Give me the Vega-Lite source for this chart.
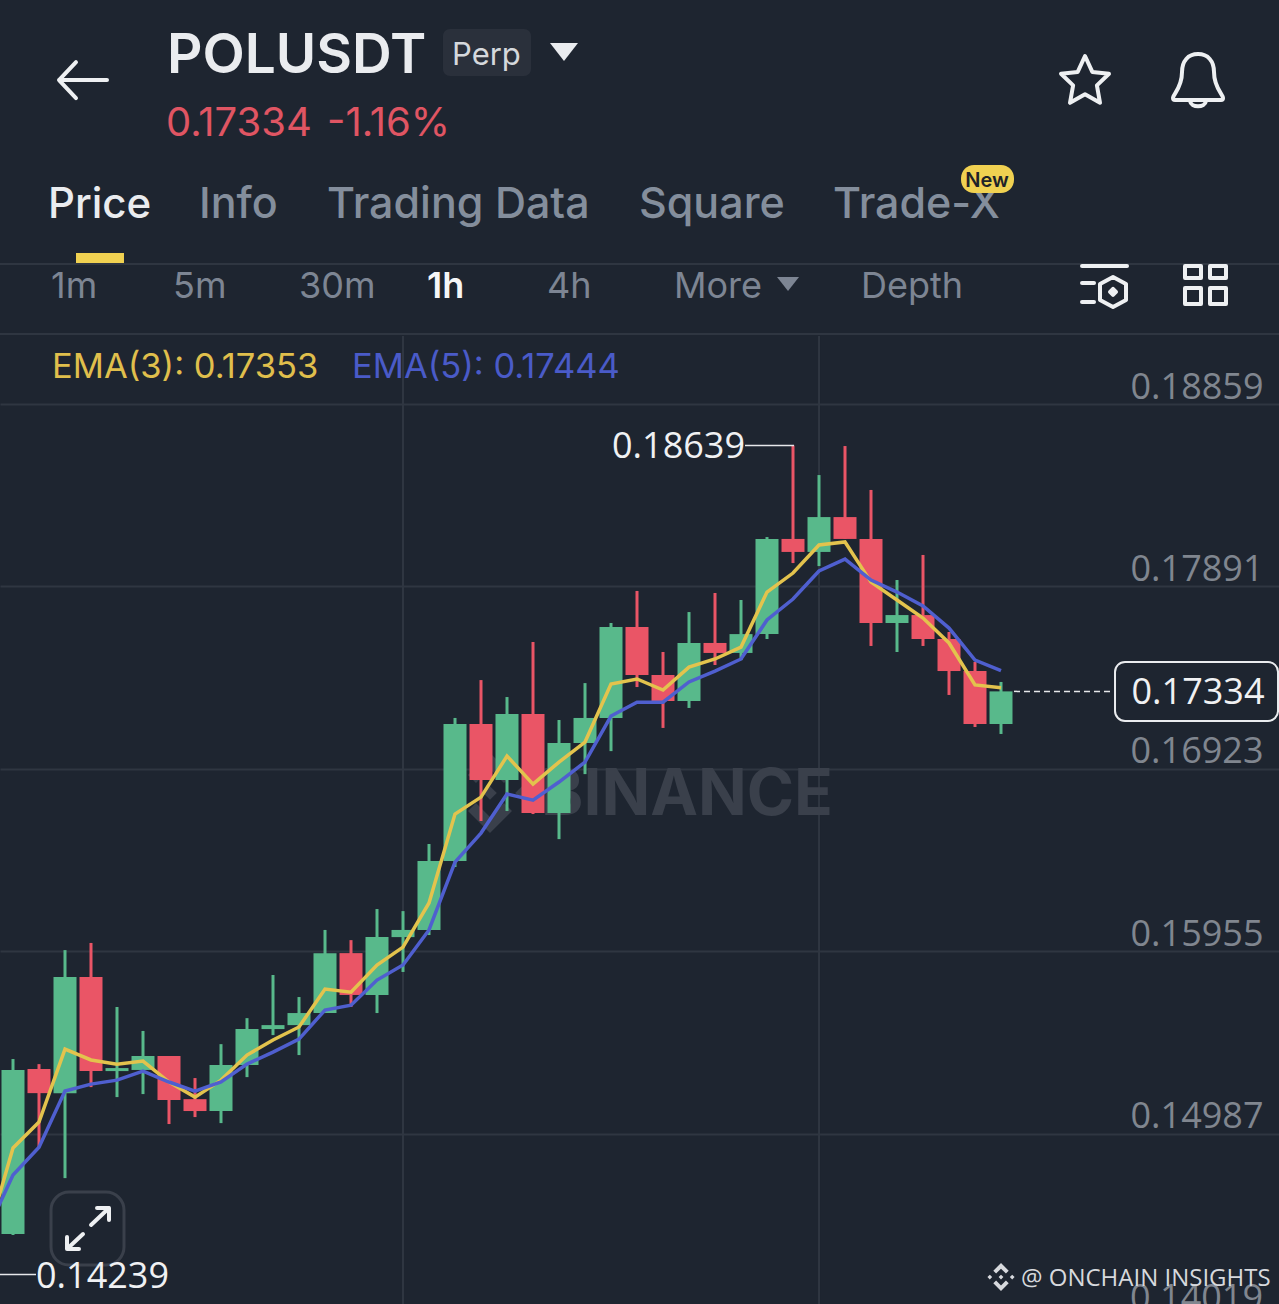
{
  "$schema": "https://vega.github.io/schema/vega-lite/v6.json",
  "description": "POLUSDT Perp 1h candlestick screen with EMA(3) and EMA(5).",
  "width": 1279,
  "height": 1304,
  "padding": 0,
  "autosize": {"type": "none"},
  "background": "#1e2530",
  "config": {"view": {"stroke": null}, "font": "Inter"},
  "resolve": {"axis": {"y": "independent"}},
  "datasets": {
    "candles": [
      {"i":0,"open":0.14454,"high":0.15383,"low":0.14449,"close":0.15325,"dir":"up"},
      {"i":1,"open":0.1533,"high":0.15356,"low":0.14915,"close":0.15202,"dir":"down"},
      {"i":2,"open":0.15202,"high":0.15961,"low":0.14751,"close":0.15818,"dir":"up"},
      {"i":3,"open":0.15818,"high":0.15999,"low":0.15234,"close":0.15319,"dir":"down"},
      {"i":4,"open":0.15319,"high":0.15659,"low":0.15181,"close":0.15335,"dir":"up"},
      {"i":5,"open":0.15325,"high":0.15532,"low":0.15197,"close":0.15399,"dir":"up"},
      {"i":6,"open":0.15399,"high":0.15399,"low":0.15038,"close":0.15165,"dir":"down"},
      {"i":7,"open":0.1517,"high":0.15282,"low":0.15075,"close":0.15107,"dir":"down"},
      {"i":8,"open":0.15107,"high":0.15462,"low":0.15043,"close":0.15351,"dir":"up"},
      {"i":9,"open":0.15351,"high":0.156,"low":0.15287,"close":0.15542,"dir":"up"},
      {"i":10,"open":0.15542,"high":0.15829,"low":0.1551,"close":0.15563,"dir":"up"},
      {"i":11,"open":0.15563,"high":0.15712,"low":0.15404,"close":0.15627,"dir":"up"},
      {"i":12,"open":0.15627,"high":0.16068,"low":0.15627,"close":0.15945,"dir":"up"},
      {"i":13,"open":0.15945,"high":0.16014,"low":0.15659,"close":0.15723,"dir":"down"},
      {"i":14,"open":0.15723,"high":0.16179,"low":0.15627,"close":0.1603,"dir":"up"},
      {"i":15,"open":0.1603,"high":0.16168,"low":0.15845,"close":0.16068,"dir":"up"},
      {"i":16,"open":0.16068,"high":0.16524,"low":0.16041,"close":0.16434,"dir":"up"},
      {"i":17,"open":0.16434,"high":0.17193,"low":0.16402,"close":0.17161,"dir":"up"},
      {"i":18,"open":0.17161,"high":0.17394,"low":0.16646,"close":0.16864,"dir":"down"},
      {"i":19,"open":0.16864,"high":0.17304,"low":0.16699,"close":0.17214,"dir":"up"},
      {"i":20,"open":0.17214,"high":0.17596,"low":0.16683,"close":0.16688,"dir":"down"},
      {"i":21,"open":0.16688,"high":0.17182,"low":0.1655,"close":0.1706,"dir":"up"},
      {"i":22,"open":0.1706,"high":0.17378,"low":0.16895,"close":0.17193,"dir":"up"},
      {"i":23,"open":0.17193,"high":0.17697,"low":0.17017,"close":0.17676,"dir":"up"},
      {"i":24,"open":0.17676,"high":0.17867,"low":0.17357,"close":0.17421,"dir":"down"},
      {"i":25,"open":0.17421,"high":0.17543,"low":0.1714,"close":0.17283,"dir":"down"},
      {"i":26,"open":0.17283,"high":0.17755,"low":0.17246,"close":0.17591,"dir":"up"},
      {"i":27,"open":0.17591,"high":0.17856,"low":0.17474,"close":0.17538,"dir":"down"},
      {"i":28,"open":0.17538,"high":0.17819,"low":0.175,"close":0.17638,"dir":"up"},
      {"i":29,"open":0.17638,"high":0.18153,"low":0.17612,"close":0.18143,"dir":"up"},
      {"i":30,"open":0.18143,"high":0.18639,"low":0.18015,"close":0.18074,"dir":"down"},
      {"i":31,"open":0.18074,"high":0.18482,"low":0.17999,"close":0.18259,"dir":"up"},
      {"i":32,"open":0.18259,"high":0.18636,"low":0.18143,"close":0.18143,"dir":"down"},
      {"i":33,"open":0.18143,"high":0.18403,"low":0.17575,"close":0.17697,"dir":"down"},
      {"i":34,"open":0.17697,"high":0.17925,"low":0.17543,"close":0.17739,"dir":"up"},
      {"i":35,"open":0.17739,"high":0.18058,"low":0.17575,"close":0.17612,"dir":"down"},
      {"i":36,"open":0.17612,"high":0.17649,"low":0.17315,"close":0.17442,"dir":"down"},
      {"i":37,"open":0.17442,"high":0.1749,"low":0.17145,"close":0.17161,"dir":"down"},
      {"i":38,"open":0.17161,"high":0.17384,"low":0.17108,"close":0.17334,"dir":"up"}
    ],
    "ema": [
      {"i":-1,"ema3":0.14433,"ema5":0.1447},
      {"i":0,"ema3":0.14911,"ema5":0.14767},
      {"i":1,"ema3":0.15049,"ema5":0.14915},
      {"i":2,"ema3":0.15436,"ema5":0.15213},
      {"i":3,"ema3":0.15378,"ema5":0.1525},
      {"i":4,"ema3":0.15356,"ema5":0.15271},
      {"i":5,"ema3":0.15372,"ema5":0.15319},
      {"i":6,"ema3":0.15261,"ema5":0.15261},
      {"i":7,"ema3":0.15181,"ema5":0.15213},
      {"i":8,"ema3":0.15271,"ema5":0.15261},
      {"i":9,"ema3":0.15404,"ema5":0.15356},
      {"i":10,"ema3":0.15484,"ema5":0.1542},
      {"i":11,"ema3":0.15553,"ema5":0.15489},
      {"i":12,"ema3":0.15754,"ema5":0.15643},
      {"i":13,"ema3":0.15738,"ema5":0.15669},
      {"i":14,"ema3":0.15882,"ema5":0.15802},
      {"i":15,"ema3":0.15977,"ema5":0.15882},
      {"i":16,"ema3":0.16211,"ema5":0.16068},
      {"i":17,"ema3":0.16683,"ema5":0.16428},
      {"i":18,"ema3":0.16773,"ema5":0.16582},
      {"i":19,"ema3":0.16991,"ema5":0.16789},
      {"i":20,"ema3":0.16842,"ema5":0.16757},
      {"i":21,"ema3":0.16959,"ema5":0.16853},
      {"i":22,"ema3":0.17065,"ema5":0.16959},
      {"i":23,"ema3":0.17373,"ema5":0.17203},
      {"i":24,"ema3":0.174,"ema5":0.17277},
      {"i":25,"ema3":0.17341,"ema5":0.17277},
      {"i":26,"ema3":0.17463,"ema5":0.17384},
      {"i":27,"ema3":0.17506,"ema5":0.17442},
      {"i":28,"ema3":0.17569,"ema5":0.17506},
      {"i":29,"ema3":0.17861,"ema5":0.17713},
      {"i":30,"ema3":0.17962,"ema5":0.17824},
      {"i":31,"ema3":0.18111,"ema5":0.17973},
      {"i":32,"ema3":0.18127,"ema5":0.18036},
      {"i":33,"ema3":0.17914,"ema5":0.17925},
      {"i":34,"ema3":0.17819,"ema5":0.17861},
      {"i":35,"ema3":0.17723,"ema5":0.17787},
      {"i":36,"ema3":0.17591,"ema5":0.1767},
      {"i":37,"ema3":0.17368,"ema5":0.175},
      {"i":38,"ema3":0.17353,"ema5":0.17444}
    ]
  },
  "layer": [
    {
      "data": {"values": [{"x": -0.5, "x2": 48.692, "y": 0.19602}, {"x": -0.5, "x2": 48.692, "y": 0.1923}]},
      "mark": {"type": "rule", "stroke": "#2f3641", "strokeWidth": 2},
      "encoding": {
        "x": {"field": "x", "type": "quantitative", "axis": null, "scale": {"domain": [-0.5, 48.692], "nice": false, "zero": false, "padding": 0}},
        "x2": {"field": "x2"},
        "y": {
          "field": "y",
          "type": "quantitative",
          "scale": {"domain": [0.14083, 0.21003], "nice": false, "zero": false, "padding": 0},
          "axis": {
            "orient": "right",
            "title": null,
            "values": [0.18859, 0.17891, 0.16923, 0.15955, 0.14987],
            "format": ".5f",
            "domain": false,
            "ticks": false,
            "grid": true,
            "gridColor": "#2f3641",
            "gridWidth": 2,
            "labelAlign": "right",
            "labelBaseline": "alphabetic",
            "labelPadding": -16,
            "labelOffset": -6,
            "labelFontSize": 36,
            "labelFont": "Open Sans",
            "labelColor": "#80868f",
            "labelBound": false,
            "labelOverlap": false,
            "labelFlush": false
          }
        }
      }
    },
    {
      "data": {"values": [{"x": 15, "y": 0.1922, "y2": 0.14083}, {"x": 31, "y": 0.1922, "y2": 0.14083}]},
      "mark": {"type": "rule", "stroke": "#2f3641", "strokeWidth": 2},
      "encoding": {
        "x": {"field": "x", "type": "quantitative", "axis": null},
        "y": {"field": "y", "type": "quantitative", "axis": null},
        "y2": {"field": "y2"}
      }
    },
    {
      "data": {"values": [{"label": "0.14019", "x": 48.077, "y": 0.14051}]},
      "mark": {"type": "text", "align": "right", "baseline": "alphabetic", "font": "Open Sans", "fontSize": 36, "color": "#80868f"},
      "encoding": {
        "x": {"field": "x", "type": "quantitative", "axis": null},
        "y": {"field": "y", "type": "quantitative", "axis": null},
        "text": {"field": "label"}
      }
    },
    {
      "data": {"values": [{"label": "BINANCE", "x": 31.538, "y": 0.16678}]},
      "mark": {"type": "text", "align": "right", "baseline": "alphabetic", "fontSize": 64, "fontWeight": 700, "color": "#3a404b"},
      "encoding": {
        "x": {"field": "x", "type": "quantitative", "axis": null},
        "y": {"field": "y", "type": "quantitative", "axis": null},
        "text": {"field": "label"}
      }
    },
    {
      "data": {"values": [{"x": 18.346, "y": 0.16795}]},
      "mark": {
        "type": "point",
        "filled": true,
        "opacity": 1,
        "size": 6400,
        "color": "#3a404b",
        "shape": "M0,-0.17 L0.17,0 L0,0.17 L-0.17,0 Z M-0.8,-0.17 L-0.63,0 L-0.8,0.17 L-0.97,0 Z M0.8,-0.17 L0.97,0 L0.8,0.17 L0.63,0 Z M0,-1 L0.55,-0.45 L0.35,-0.25 L0,-0.6 L-0.35,-0.25 L-0.55,-0.45 Z M0,1 L0.55,0.45 L0.35,0.25 L0,0.6 L-0.35,0.25 L-0.55,0.45 Z"
      },
      "encoding": {
        "x": {"field": "x", "type": "quantitative", "axis": null},
        "y": {"field": "y", "type": "quantitative", "axis": null}
      }
    },
    {
      "data": {"name": "candles"},
      "mark": {"type": "rule", "strokeWidth": 3, "clip": true},
      "encoding": {
        "x": {"field": "i", "type": "quantitative", "axis": null},
        "y": {"field": "low", "type": "quantitative", "axis": null},
        "y2": {"field": "high"},
        "color": {"field": "dir", "type": "nominal", "legend": null, "scale": {"domain": ["up", "down"], "range": ["#58b98b", "#ea5566"]}}
      }
    },
    {
      "data": {"name": "candles"},
      "mark": {"type": "bar", "size": 23, "clip": true},
      "encoding": {
        "x": {"field": "i", "type": "quantitative", "axis": null},
        "y": {"field": "open", "type": "quantitative", "axis": null},
        "y2": {"field": "close"},
        "color": {"field": "dir", "type": "nominal", "legend": null}
      }
    },
    {
      "data": {"name": "ema"},
      "mark": {"type": "line", "stroke": "#e3c34d", "strokeWidth": 3.5, "clip": true},
      "encoding": {
        "x": {"field": "i", "type": "quantitative", "axis": null},
        "y": {"field": "ema3", "type": "quantitative", "axis": null}
      }
    },
    {
      "data": {"name": "ema"},
      "mark": {"type": "line", "stroke": "#4f5fcf", "strokeWidth": 3.5, "clip": true},
      "encoding": {
        "x": {"field": "i", "type": "quantitative", "axis": null},
        "y": {"field": "ema5", "type": "quantitative", "axis": null}
      }
    },
    {
      "data": {"values": [{"x": 28.154, "x2": 30.038, "y": 0.18639}, {"x": -0.5, "x2": 0.885, "y": 0.14239}]},
      "mark": {"type": "rule", "stroke": "#e6e8ea", "strokeWidth": 1.5},
      "encoding": {
        "x": {"field": "x", "type": "quantitative", "axis": null},
        "x2": {"field": "x2"},
        "y": {"field": "y", "type": "quantitative", "axis": null}
      }
    },
    {
      "data": {"values": [{"x": 38.5, "x2": 42.308, "y": 0.17334}]},
      "mark": {"type": "rule", "stroke": "#e6e8ea", "strokeWidth": 1.5, "strokeDash": [6, 4]},
      "encoding": {
        "x": {"field": "x", "type": "quantitative", "axis": null},
        "x2": {"field": "x2"},
        "y": {"field": "y", "type": "quantitative", "axis": null}
      }
    },
    {
      "data": {"values": [{"x": 16.538, "x2": 19.923, "y": 0.20849, "y2": 0.206}]},
      "mark": {"type": "rect", "color": "#2a303b", "cornerRadius": 7},
      "encoding": {
        "x": {"field": "x", "type": "quantitative", "axis": null},
        "x2": {"field": "x2"},
        "y": {"field": "y", "type": "quantitative", "axis": null},
        "y2": {"field": "y2"}
      }
    },
    {
      "data": {"values": [{"x": 2.423, "x2": 4.269, "y": 0.1966, "y2": 0.19607}]},
      "mark": {"type": "rect", "color": "#f0d151"},
      "encoding": {
        "x": {"field": "x", "type": "quantitative", "axis": null},
        "x2": {"field": "x2"},
        "y": {"field": "y", "type": "quantitative", "axis": null},
        "y2": {"field": "y2"}
      }
    },
    {
      "data": {"values": [{"x": 42.385, "x2": 48.654, "y": 0.1749, "y2": 0.17177}]},
      "mark": {"type": "rect", "fill": "#1e2530", "stroke": "#eaecef", "strokeWidth": 2, "cornerRadius": 10},
      "encoding": {
        "x": {"field": "x", "type": "quantitative", "axis": null},
        "x2": {"field": "x2"},
        "y": {"field": "y", "type": "quantitative", "axis": null},
        "y2": {"field": "y2"}
      }
    },
    {
      "data": {"values": [{"x": 1.462, "x2": 4.269, "y": 0.14677, "y2": 0.1429}]},
      "mark": {"type": "rect", "filled": false, "stroke": "#3a404b", "strokeWidth": 3, "cornerRadius": 18},
      "encoding": {
        "x": {"field": "x", "type": "quantitative", "axis": null},
        "x2": {"field": "x2"},
        "y": {"field": "y", "type": "quantitative", "axis": null},
        "y2": {"field": "y2"}
      }
    },
    {
      "data": {"values": [{"label": "POLUSDT", "x": 5.923, "y": 0.20616}]},
      "mark": {"type": "text", "align": "left", "baseline": "alphabetic", "fontSize": 55, "fontWeight": 600, "color": "#eaecef"},
      "encoding": {
        "x": {"field": "x", "type": "quantitative", "axis": null},
        "y": {"field": "y", "type": "quantitative", "axis": null},
        "text": {"field": "label"}
      }
    },
    {
      "data": {"values": [{"label": "Perp", "x": 16.885, "y": 0.20658}]},
      "mark": {"type": "text", "align": "left", "baseline": "alphabetic", "fontSize": 31, "color": "#d5d8dc"},
      "encoding": {
        "x": {"field": "x", "type": "quantitative", "axis": null},
        "y": {"field": "y", "type": "quantitative", "axis": null},
        "text": {"field": "label"}
      }
    },
    {
      "data": {"values": [{"label": "0.17334", "x": 5.885, "y": 0.20281}, {"label": "-1.16%", "x": 12.077, "y": 0.20281}]},
      "mark": {"type": "text", "align": "left", "baseline": "alphabetic", "fontSize": 40, "color": "#e05563"},
      "encoding": {
        "x": {"field": "x", "type": "quantitative", "axis": null},
        "y": {"field": "y", "type": "quantitative", "axis": null},
        "text": {"field": "label"}
      }
    },
    {
      "data": {"values": [{"label": "Price", "x": 1.346, "y": 0.19846}]},
      "mark": {"type": "text", "align": "left", "baseline": "alphabetic", "fontSize": 42, "fontWeight": 500, "color": "#eaecef"},
      "encoding": {
        "x": {"field": "x", "type": "quantitative", "axis": null},
        "y": {"field": "y", "type": "quantitative", "axis": null},
        "text": {"field": "label"}
      }
    },
    {
      "data": {"values": [
        {"label": "Info", "x": 7.154, "y": 0.19846},
        {"label": "Trading Data", "x": 12.077, "y": 0.19846},
        {"label": "Square", "x": 24.077, "y": 0.19846},
        {"label": "Trade-X", "x": 31.538, "y": 0.19846}
      ]},
      "mark": {"type": "text", "align": "left", "baseline": "alphabetic", "fontSize": 43, "fontWeight": 500, "color": "#848e9c"},
      "encoding": {
        "x": {"field": "x", "type": "quantitative", "axis": null},
        "y": {"field": "y", "type": "quantitative", "axis": null},
        "text": {"field": "label"}
      }
    },
    {
      "data": {"values": [{"x": 36.462, "x2": 38.5, "y": 0.20127, "y2": 0.19979}]},
      "mark": {"type": "rect", "color": "#f0d151", "cornerRadius": 13},
      "encoding": {
        "x": {"field": "x", "type": "quantitative", "axis": null},
        "x2": {"field": "x2"},
        "y": {"field": "y", "type": "quantitative", "axis": null},
        "y2": {"field": "y2"}
      }
    },
    {
      "data": {"values": [{"label": "New", "x": 37.462, "y": 0.20011}]},
      "mark": {"type": "text", "align": "center", "baseline": "alphabetic", "fontSize": 20, "fontWeight": 600, "color": "#1e2329"},
      "encoding": {
        "x": {"field": "x", "type": "quantitative", "axis": null},
        "y": {"field": "y", "type": "quantitative", "axis": null},
        "text": {"field": "label"}
      }
    },
    {
      "data": {"values": [
        {"label": "1m", "x": 1.462, "y": 0.19422},
        {"label": "5m", "x": 6.154, "y": 0.19422},
        {"label": "30m", "x": 11, "y": 0.19422},
        {"label": "4h", "x": 20.538, "y": 0.19422},
        {"label": "More", "x": 25.423, "y": 0.19422},
        {"label": "Depth", "x": 32.615, "y": 0.19422}
      ]},
      "mark": {"type": "text", "align": "left", "baseline": "alphabetic", "fontSize": 36, "color": "#7d8593"},
      "encoding": {
        "x": {"field": "x", "type": "quantitative", "axis": null},
        "y": {"field": "y", "type": "quantitative", "axis": null},
        "text": {"field": "label"}
      }
    },
    {
      "data": {"values": [{"label": "1h", "x": 15.923, "y": 0.19422}]},
      "mark": {"type": "text", "align": "left", "baseline": "alphabetic", "fontSize": 36, "fontWeight": 600, "color": "#f5f6f7"},
      "encoding": {
        "x": {"field": "x", "type": "quantitative", "axis": null},
        "y": {"field": "y", "type": "quantitative", "axis": null},
        "text": {"field": "label"}
      }
    },
    {
      "data": {"values": [{"label": "EMA(3): 0.17353", "x": 1.5, "y": 0.18997}]},
      "mark": {"type": "text", "align": "left", "baseline": "alphabetic", "fontSize": 34.5, "color": "#e0bf4c"},
      "encoding": {
        "x": {"field": "x", "type": "quantitative", "axis": null},
        "y": {"field": "y", "type": "quantitative", "axis": null},
        "text": {"field": "label"}
      }
    },
    {
      "data": {"values": [{"label": "EMA(5): 0.17444", "x": 13.038, "y": 0.18997}]},
      "mark": {"type": "text", "align": "left", "baseline": "alphabetic", "fontSize": 34.5, "color": "#4a5bc8"},
      "encoding": {
        "x": {"field": "x", "type": "quantitative", "axis": null},
        "y": {"field": "y", "type": "quantitative", "axis": null},
        "text": {"field": "label"}
      }
    },
    {
      "data": {"values": [{"label": "0.18639", "x": 28.154, "y": 0.18572}]},
      "mark": {"type": "text", "align": "right", "baseline": "alphabetic", "font": "Open Sans", "fontSize": 36, "color": "#f0f1f3"},
      "encoding": {
        "x": {"field": "x", "type": "quantitative", "axis": null},
        "y": {"field": "y", "type": "quantitative", "axis": null},
        "text": {"field": "label"}
      }
    },
    {
      "data": {"values": [{"label": "0.14239", "x": 0.885, "y": 0.14168}]},
      "mark": {"type": "text", "align": "left", "baseline": "alphabetic", "font": "Open Sans", "fontSize": 36, "color": "#f0f1f3"},
      "encoding": {
        "x": {"field": "x", "type": "quantitative", "axis": null},
        "y": {"field": "y", "type": "quantitative", "axis": null},
        "text": {"field": "label"}
      }
    },
    {
      "data": {"values": [{"label": "0.17334", "x": 45.577, "y": 0.17267}]},
      "mark": {"type": "text", "align": "center", "baseline": "alphabetic", "font": "Open Sans", "fontSize": 36, "color": "#f0f1f3"},
      "encoding": {
        "x": {"field": "x", "type": "quantitative", "axis": null},
        "y": {"field": "y", "type": "quantitative", "axis": null},
        "text": {"field": "label"}
      }
    },
    {
      "data": {"values": [{"label": "@ ONCHAIN INSIGHTS", "x": 38.769, "y": 0.14178}]},
      "mark": {"type": "text", "align": "left", "baseline": "alphabetic", "font": "Open Sans", "fontSize": 24, "color": "#d7d9dd"},
      "encoding": {
        "x": {"field": "x", "type": "quantitative", "axis": null},
        "y": {"field": "y", "type": "quantitative", "axis": null},
        "text": {"field": "label"}
      }
    },
    {
      "data": {"values": [{"x": 38, "y": 0.14226}]},
      "mark": {
        "type": "point",
        "filled": true,
        "opacity": 1,
        "size": 784,
        "color": "#d7d9dd",
        "shape": "M0,-0.17 L0.17,0 L0,0.17 L-0.17,0 Z M-0.8,-0.17 L-0.63,0 L-0.8,0.17 L-0.97,0 Z M0.8,-0.17 L0.97,0 L0.8,0.17 L0.63,0 Z M0,-1 L0.55,-0.45 L0.35,-0.25 L0,-0.6 L-0.35,-0.25 L-0.55,-0.45 Z M0,1 L0.55,0.45 L0.35,0.25 L0,0.6 L-0.35,0.25 L-0.55,0.45 Z"
      },
      "encoding": {
        "x": {"field": "x", "type": "quantitative", "axis": null},
        "y": {"field": "y", "type": "quantitative", "axis": null}
      }
    },
    {
      "data": {"values": [{"x": 21.192, "y": 0.20727, "icon": "caret"}]},
      "mark": {"type": "point", "filled": true, "opacity": 1, "size": 4, "color": "#eaecef", "shape": "M-14,-9 H14 L0,9 Z"},
      "encoding": {
        "x": {"field": "x", "type": "quantitative", "axis": null},
        "y": {"field": "y", "type": "quantitative", "axis": null}
      }
    },
    {
      "data": {"values": [{"x": 29.808, "y": 0.19496, "icon": "caret"}]},
      "mark": {"type": "point", "filled": true, "opacity": 1, "size": 4, "color": "#7d8593", "shape": "M-11,-7 H11 L0,7 Z"},
      "encoding": {
        "x": {"field": "x", "type": "quantitative", "axis": null},
        "y": {"field": "y", "type": "quantitative", "axis": null}
      }
    },
    {
      "data": {"values": [
        {"x": 2.654, "y": 0.20578, "icon": "back"},
        {"x": 41.231, "y": 0.20573, "icon": "star"},
        {"x": 45.577, "y": 0.20578, "icon": "bell"},
        {"x": 41.962, "y": 0.19491, "icon": "indicators"},
        {"x": 45.846, "y": 0.19491, "icon": "layout"},
        {"x": 2.885, "y": 0.14481, "icon": "expand"}
      ]},
      "mark": {"type": "point", "filled": false, "opacity": 1, "size": 4, "stroke": "#eef0f2", "strokeWidth": 4, "strokeJoin": "round", "strokeCap": "round"},
      "encoding": {
        "x": {"field": "x", "type": "quantitative", "axis": null},
        "y": {"field": "y", "type": "quantitative", "axis": null},
        "shape": {
          "field": "icon",
          "type": "nominal",
          "legend": null,
          "scale": {
            "domain": ["back", "star", "bell", "indicators", "layout", "expand"],
            "range": [
              "M-23,0 H25 M-6,-18 L-23,0 L-6,18",
              "M0,-25 L7.3,-9.1 L24,-7.3 L11.9,4.4 L15,21.8 L0,13.2 L-15,21.8 L-11.9,4.4 L-24,-7.3 L-7.3,-9.1 Z",
              "M-25,18 C-25,14 -16,8 -16,-8 C-16,-19 -10,-26 0,-26 C10,-26 16,-19 16,-8 C16,8 25,14 25,18 Q25,20 23,20 L-23,20 Q-25,20 -25,18 Z M-8,21 C-7,28 7,28 8,21",
              "M-22,-19 H23 M-22,-2 H-10 M-22,17 H-10 M9,-8 L22,-1 L22,15 L9,22 L-4,15 L-4,-1 Z M9,4 L12,7 L9,10 L6,7 Z",
              "M-20,-19 H-4 V-7 H-20 Z M5,-19 H21 V-7 H5 Z M-20,3 H-4 V19 H-20 Z M5,3 H21 V19 H5 Z",
              "M3,-4 L21,-21 M9,-21 H21 V-9 M-5,5 L-21,20 M-21,8 V20 H-9"
            ]
          }
        }
      }
    }
  ]
}
